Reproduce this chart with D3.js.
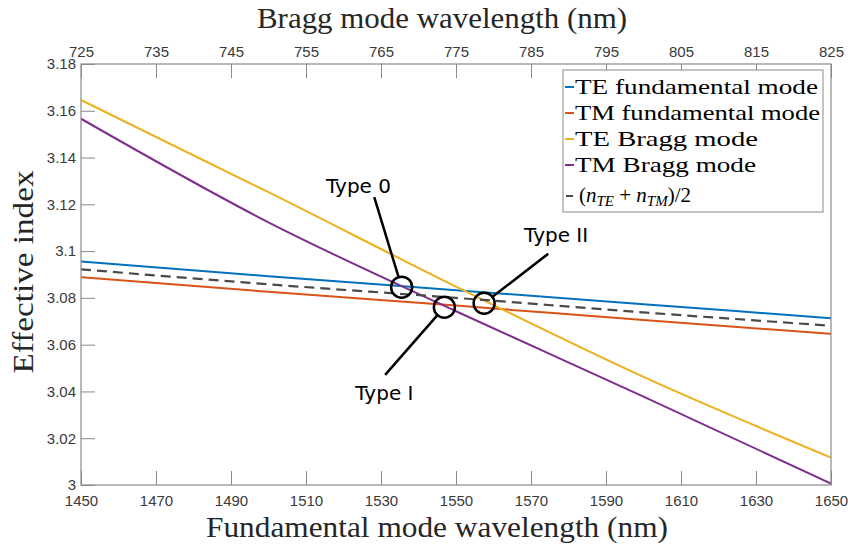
<!DOCTYPE html>
<html>
<head>
<meta charset="utf-8">
<script src="https://cdn.jsdelivr.net/npm/d3@7"></script>
<style>
  html, body { margin: 0; padding: 0; background: #fff; }
  svg { display: block; }
</style>
</head>
<body>
<svg id="chart" width="848" height="547"></svg>
<script>
// ---------------- data ----------------
const wavelength = [1450, 1500, 1550, 1600, 1650];
const teFundamental = [3.0956, 3.0893, 3.0833, 3.0773, 3.0713];
const tmFundamental = [3.0889, 3.0826, 3.0767, 3.0705, 3.0646];
const teBragg = [3.1646, 3.1252, 3.0848, 3.0462, 3.0117];
const tmBragg = [3.1566, 3.1123, 3.0743, 3.0378, 3.0006];
const averageIndex = [3.0922, 3.0858, 3.0800, 3.0738, 3.0681];

const bottomTicks = [1450, 1470, 1490, 1510, 1530, 1550, 1570, 1590, 1610, 1630, 1650];
const topTicks = [725, 735, 745, 755, 765, 775, 785, 795, 805, 815, 825];
const yTicks = [3, 3.02, 3.04, 3.06, 3.08, 3.1, 3.12, 3.14, 3.16, 3.18];
const yTickLabels = ["3", "3.02", "3.04", "3.06", "3.08", "3.1", "3.12", "3.14", "3.16", "3.18"];

const seriesLabels = ["TE fundamental mode", "TM fundamental mode", "TE Bragg mode", "TM Bragg mode"];

const annLabels = ["Type 0", "Type I", "Type II"];
const annCircleWl = [1535.5, 1546.9, 1557.5];
const annCircleN = [3.0846, 3.0760, 3.0777];
const annLineWl = [1528.2, 1531.1, 1574.6];
const annLineN = [3.1231, 3.0471, 3.0989];
const annTextWl = [1524.0, 1530.9, 1576.7];
const annTextN = [3.1250, 3.0364, 3.1038];

// ---------------- layout ----------------
const W = 848, H = 547;
const m = { left: 81, right: 17, top: 64, bottom: 62 };
const svg = d3.select("#chart");
svg.append("rect").attr("width", W).attr("height", H).attr("fill", "#fff");

const x = d3.scaleLinear().domain([1450, 1650]).range([m.left, W - m.right]);
const x2 = d3.scaleLinear().domain([725, 825]).range([m.left, W - m.right]);
const y = d3.scaleLinear().domain([3, 3.18]).range([H - m.bottom, m.top]);

const axisColor = "#8a8a8a";
const tickTextColor = "#3a3a3a";
const sans = "'Liberation Sans', Arial, sans-serif";
const serif = "'Liberation Serif', 'Times New Roman', serif";

// clip
svg.append("defs").append("clipPath").attr("id", "clip")
  .append("rect").attr("x", m.left).attr("y", m.top)
  .attr("width", W - m.left - m.right).attr("height", H - m.top - m.bottom);

function styleAxis(g) {
  g.select(".domain").remove();
  g.selectAll(".tick line").attr("stroke", axisColor).attr("stroke-width", 1);
  g.selectAll(".tick text").attr("fill", tickTextColor)
    .style("font-family", sans).style("font-size", "15px");
}

svg.append("g").attr("transform", `translate(0,${H - m.bottom})`)
  .call(d3.axisBottom(x).tickValues(bottomTicks).tickFormat(d3.format("d"))
    .tickSizeInner(-14).tickSizeOuter(0).tickPadding(10))
  .call(styleAxis);

svg.append("g").attr("transform", `translate(0,${m.top})`)
  .call(d3.axisTop(x2).tickValues(topTicks).tickFormat(d3.format("d"))
    .tickSizeInner(-14).tickSizeOuter(0).tickPadding(7))
  .call(styleAxis);

svg.append("g").attr("transform", `translate(${m.left},0)`)
  .call(d3.axisLeft(y).tickValues(yTicks).tickFormat((d, i) => yTickLabels[i])
    .tickSizeInner(-14).tickSizeOuter(0).tickPadding(5))
  .call(styleAxis);

// lines
const seriesValues = [teFundamental, tmFundamental, teBragg, tmBragg];
const seriesColors = ["#0072BD", "#D95319", "#EDB120", "#7E2F8E"];
const line = d3.line().x(d => x(d[0])).y(d => y(d[1])).curve(d3.curveMonotoneX);

const plot = svg.append("g").attr("clip-path", "url(#clip)");
seriesValues.forEach((vals, i) => {
  plot.append("path")
    .datum(wavelength.map((w, j) => [w, vals[j]]))
    .attr("d", line).attr("fill", "none")
    .attr("stroke", seriesColors[i]).attr("stroke-width", 2);
});
plot.append("path")
  .datum(wavelength.map((w, j) => [w, averageIndex[j]]))
  .attr("d", line).attr("fill", "none")
  .attr("stroke", "#4a4a4a").attr("stroke-width", 2.2)
  .attr("stroke-dasharray", "10,6");

// box
svg.append("rect").attr("x", m.left).attr("y", m.top)
  .attr("width", W - m.left - m.right).attr("height", H - m.top - m.bottom)
  .attr("fill", "none").attr("stroke", axisColor).attr("stroke-width", 1.2);

// annotations
const ann = svg.append("g");
annLabels.forEach((lab, i) => {
  const cx = x(annCircleWl[i]), cy = y(annCircleN[i]);
  const lx = x(annLineWl[i]), ly = y(annLineN[i]);
  const r = 10.5;
  const dx = cx - lx, dy = cy - ly, len = Math.hypot(dx, dy);
  ann.append("line").attr("x1", lx).attr("y1", ly)
    .attr("x2", cx - dx / len * r).attr("y2", cy - dy / len * r)
    .attr("stroke", "#000").attr("stroke-width", 2.5);
  ann.append("circle").attr("cx", cx).attr("cy", cy).attr("r", r)
    .attr("fill", "none").attr("stroke", "#000").attr("stroke-width", 2.5);
  ann.append("text").attr("x", x(annTextWl[i])).attr("y", y(annTextN[i]))
    .attr("text-anchor", "middle")
    .style("font-family", "'DejaVu Sans', Verdana, sans-serif")
    .style("font-size", "20px").attr("fill", "#000").text(lab);
});

// titles
svg.append("text").attr("x", 442).attr("y", 28).attr("text-anchor", "middle")
  .attr("textLength", 370).attr("lengthAdjust", "spacingAndGlyphs")
  .style("font-family", serif).style("font-size", "30px").attr("fill", "#262626")
  .text("Bragg mode wavelength (nm)");
svg.append("text").attr("x", 437).attr("y", 537).attr("text-anchor", "middle")
  .attr("textLength", 462).attr("lengthAdjust", "spacingAndGlyphs")
  .style("font-family", serif).style("font-size", "30px").attr("fill", "#262626")
  .text("Fundamental mode wavelength (nm)");
svg.append("text").attr("transform", "translate(33,272) rotate(-90)")
  .attr("text-anchor", "middle")
  .attr("textLength", 203).attr("lengthAdjust", "spacingAndGlyphs")
  .style("font-family", serif).style("font-size", "30px").attr("fill", "#262626")
  .text("Effective index");

// legend
const lg = svg.append("g");
lg.append("rect").attr("x", 563).attr("y", 70).attr("width", 260).attr("height", 142)
  .attr("fill", "#fff").attr("stroke", axisColor).attr("stroke-width", 1);
const rowY = [87, 113, 139, 165, 196];
const rowW = [243, 245, 183, 181];
seriesLabels.forEach((lab, i) => {
  lg.append("line").attr("x1", 565).attr("x2", 574).attr("y1", rowY[i]).attr("y2", rowY[i])
    .attr("stroke", seriesColors[i]).attr("stroke-width", 2);
  lg.append("text").attr("x", 575).attr("y", rowY[i] + 7)
    .attr("textLength", rowW[i]).attr("lengthAdjust", "spacingAndGlyphs")
    .style("font-family", serif).style("font-size", "21px").attr("fill", "#000")
    .text(lab);
});
lg.append("line").attr("x1", 566).attr("x2", 573).attr("y1", rowY[4]).attr("y2", rowY[4])
  .attr("stroke", "#4a4a4a").attr("stroke-width", 2);
const mt = lg.append("text").attr("x", 579).attr("y", rowY[4] + 6)
  .style("font-family", serif).style("font-size", "21px").attr("fill", "#000");
mt.append("tspan").text("(");
mt.append("tspan").style("font-style", "italic").text("n");
mt.append("tspan").style("font-style", "italic").style("font-size", "15px").attr("dy", 4).text("TE");
mt.append("tspan").attr("dy", -4).text(" + ");
mt.append("tspan").style("font-style", "italic").text("n");
mt.append("tspan").style("font-style", "italic").style("font-size", "15px").attr("dy", 4).text("TM");
mt.append("tspan").attr("dy", -4).text(")/2");
</script>
</body>
</html>
